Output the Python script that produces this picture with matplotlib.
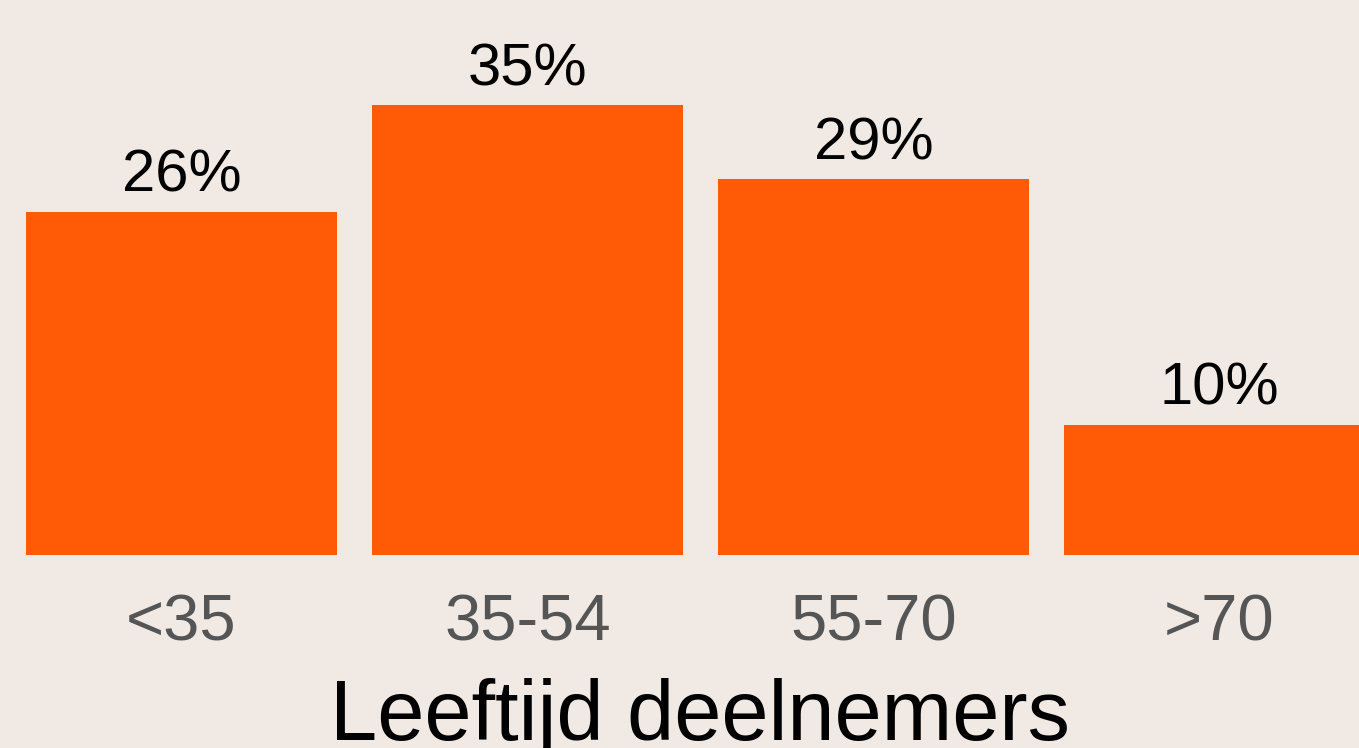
import matplotlib
matplotlib.use("Agg")
import matplotlib.pyplot as plt

# Age groups of participants and their share (%)
categories = ["<35", "35-54", "55-70", ">70"]
shares = [26.4, 34.6, 28.9, 10.0]
share_labels = ["26%", "35%", "29%", "10%"]
axis_title = "Leeftijd deelnemers"

bg_color = "#F0E9E4"
bar_color = "#FF5A05"

plt.rcParams['font.family'] = ['Liberation Sans', 'DejaVu Sans']

fig = plt.figure(figsize=(13.59, 7.48), dpi=100, facecolor=bg_color)
ax = fig.add_axes([0, 193 / 748, 1, 555 / 748])
ax.set_facecolor(bg_color)

x = range(len(categories))
bars = ax.bar(x, shares, width=0.9, color=bar_color, linewidth=0)

# value labels above the bars
for rect, lab in zip(bars, share_labels):
    ax.annotate(lab, (rect.get_x() + rect.get_width() / 2, rect.get_height()),
                xytext=(0, 14.5), textcoords="offset points",
                ha="center", va="baseline", fontsize=43, color="black")

ax.set_xlim(-0.5246, 3.403)
ax.set_ylim(0, 42.7)

ax.set_xticks(list(x), categories)
ax.tick_params(axis="x", length=0, pad=28, labelsize=47, labelcolor="#555555")
ax.set_yticks([])
for s in ax.spines.values():
    s.set_visible(False)

fig.text(700 / 1359, 8 / 748, axis_title, ha="center", va="baseline",
         fontsize=61, color="black")

fig.savefig("out.png", dpi=100, facecolor=bg_color)
